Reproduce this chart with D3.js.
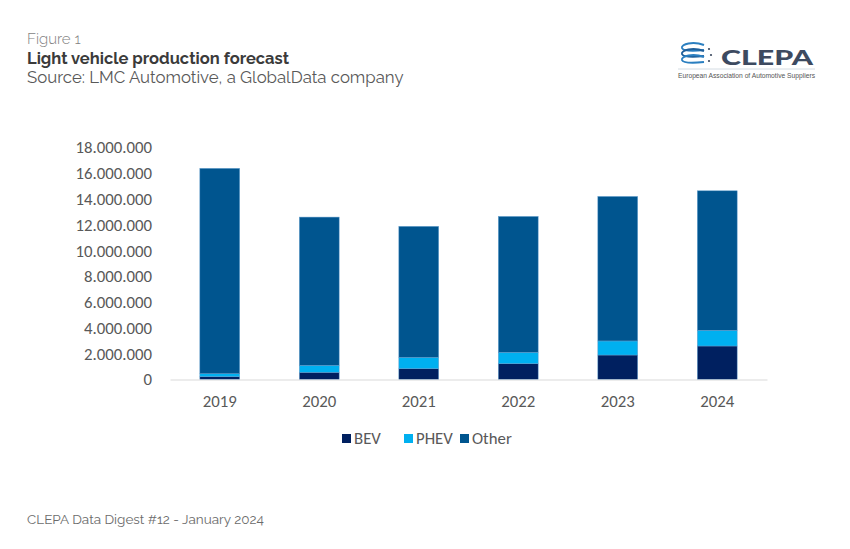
<!DOCTYPE html>
<html><head><meta charset="utf-8">
<script src="https://cdn.jsdelivr.net/npm/d3@7"></script>
<style>body{margin:0;background:#fff}svg{display:block}</style>
</head><body>
<svg id="c" width="850" height="549"></svg>
<script>
const years = ["2019","2020","2021","2022","2023","2024"];
const bev   = [220000, 560000, 840000, 1230000, 1900000, 2600000];
const phev  = [230000, 540000, 880000, 880000, 1090000, 1220000];
const other = [15930000, 11500000, 10160000, 10540000, 11210000, 10820000];
const seriesNames = ["BEV","PHEV","Other"];
const seriesColors = ["#002060","#00B0F0","#00558F"];
const yTicks = [0,2000000,4000000,6000000,8000000,10000000,12000000,14000000,16000000,18000000];

const svg = d3.select("#c");
const W = 850, H = 549;
svg.append("rect").attr("width",W).attr("height",H).attr("fill","#fff");

// Header
const tf = "Raleway, Lato, 'Open Sans', sans-serif";
svg.append("text").attr("x",27).attr("y",44).text("Figure 1")
  .attr("font-family",tf).attr("font-size",15).attr("fill","#7f7f7f").attr("font-weight",300);
svg.append("text").attr("x",27).attr("y",64).text("Light vehicle production forecast")
  .attr("font-family",tf).attr("font-size",16.5).attr("fill","#3b3b3b").attr("font-weight",700);
svg.append("text").attr("x",27).attr("y",83).text("Source: LMC Automotive, a GlobalData company")
  .attr("font-family",tf).attr("font-size",16.8).attr("fill","#595959").attr("font-weight",400);
svg.append("text").attr("x",27).attr("y",524).text("CLEPA Data Digest #12 - January 2024")
  .attr("font-family",tf).attr("font-size",13.5).attr("fill","#6b6b6b");

// Logo
const lg = svg.append("g");
lg.append("text").attr("x",721).attr("y",64.5).text("CLEPA")
  .attr("font-family","Lato, 'Open Sans', sans-serif").attr("font-weight",900)
  .attr("font-size",20).attr("textLength",92).attr("lengthAdjust","spacingAndGlyphs").attr("fill","#3d4a60");
lg.append("line").attr("x1",678).attr("x2",815).attr("y1",69).attr("y2",69).attr("stroke","#c9d3dc").attr("stroke-width",0.8);
lg.append("text").attr("x",678).attr("y",77.5).text("European Association of Automotive Suppliers")
  .attr("font-family","'Liberation Sans', Arial, sans-serif").attr("font-size",7)
  .attr("textLength",137).attr("lengthAdjust","spacingAndGlyphs").attr("fill","#555");
[[0,"#2b7fc0"],[6,"#1f5f9a"],[12,"#2b7fc0"]].forEach(([dy,c])=>{
  lg.append("path").attr("d",`M704,${45+dy} C693,${41+dy} 681,${44+dy} 682,${48+dy} C683,${51+dy} 694,${51+dy} 704,${50+dy}`)
    .attr("fill","none").attr("stroke",c).attr("stroke-width",2);
});
[[709,49],[711,55],[709,61]].forEach(([cx,cy])=>lg.append("circle").attr("cx",cx).attr("cy",cy).attr("r",1.1).attr("fill","#3d4a60"));

// Chart
const x = d3.scaleBand().domain(years).range([170,767]).paddingInner(0.6).paddingOuter(0.3);
const y = d3.scaleLinear().domain([0,18000000]).range([379.5,147.5]);
const loc = d3.formatLocale({decimal:",", thousands:".", grouping:[3], currency:["",""]});
const fmt = loc.format(",.0f");
const af = "Carlito, Calibri, Lato, 'Open Sans', sans-serif";

const yAxis = svg.append("g").attr("transform","translate(152,0)")
  .call(d3.axisLeft(y).tickValues(yTicks).tickFormat(fmt).tickSize(0).tickPadding(0));
yAxis.select(".domain").remove();
yAxis.selectAll("text").attr("font-family",af).attr("font-size",16.8).attr("fill","#595959");

const table = years.map((yr,i)=>({year:yr, BEV:bev[i], PHEV:phev[i], Other:other[i]}));
const stack = d3.stack().keys(seriesNames)(table);
svg.append("g").selectAll("g").data(stack).join("g").attr("fill",(d,i)=>seriesColors[i])
  .selectAll("rect").data(d=>d).join("rect")
  .attr("x",d=>x(d.data.year)).attr("width",x.bandwidth())
  .attr("y",d=>y(d[1])).attr("height",d=>y(d[0])-y(d[1]))
  .attr("stroke","#5e9ccc").attr("stroke-width",0.5);

const xAxis = svg.append("g").attr("transform","translate(0,379.5)")
  .call(d3.axisBottom(x).tickSize(0).tickPadding(16));
xAxis.select(".domain").attr("stroke","#d9d9d9").attr("stroke-width",1.2);
xAxis.selectAll("text").attr("font-family",af).attr("font-size",16.8).attr("fill","#595959");

// Legend
const legX = [342,404,460];
const leg = svg.append("g");
seriesNames.forEach((n,i)=>{
  leg.append("rect").attr("x",legX[i]).attr("y",434).attr("width",9).attr("height",9).attr("fill",seriesColors[i]);
  leg.append("text").attr("x",legX[i]+12).attr("y",444).text(n)
    .attr("font-family",af).attr("font-size",16.8).attr("fill","#595959");
});
</script>
</body></html>
